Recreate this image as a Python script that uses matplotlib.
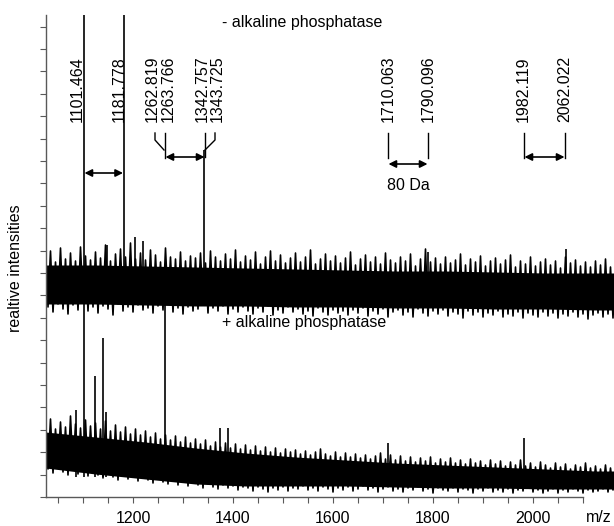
import numpy as np
import matplotlib
matplotlib.use("Agg")
import matplotlib.pyplot as plt

plt.rcParams['font.family'] = ['Liberation Sans', 'DejaVu Sans']

# m/z grid of the noise maxima (every 10 Da); minima sit 5 Da later
mz = np.arange(1025, 2166, 10)
# m/z grid of the dense noise core
core_mz = [1025, 1125, 1225, 1325, 1425, 1525, 1625, 1725, 1825, 1925, 2025, 2125, 2165]

# "- alkaline phosphatase" trace: core band, noise maxima and minima
top_core_hi = [232, 232, 231, 230, 229, 228, 227, 226, 226, 225, 224, 224, 224]
top_core_lo = [193, 193, 192, 191, 191, 190, 190, 189, 189, 188, 188, 187, 187]
top_hi = [240, 246, 235, 249, 238, 244, 236, 250, 241, 237,
          245, 239, 252, 236, 243, 248, 240, 254, 238, 244,
          237, 247, 242, 235, 249, 240, 238, 245, 236, 241,
          239, 244, 234, 246, 240, 236, 243, 238, 247, 235,
          241, 237, 245, 233, 240, 246, 236, 242, 234, 239,
          244, 235, 240, 247, 233, 238, 243, 236, 241, 234,
          239, 245, 232, 238, 242, 235, 240, 233, 244, 237,
          234, 240, 236, 243, 231, 238, 248, 235, 239, 233,
          240, 234, 237, 243, 232, 238, 235, 241, 231, 236,
          239, 233, 237, 242, 230, 236, 233, 240, 231, 235,
          238, 232, 236, 229, 240, 234, 237, 231, 235, 230,
          236, 232, 238, 230, 234]
top_lo = [190, 185, 193, 188, 183, 192, 187, 194, 186, 190,
          184, 191, 188, 182, 193, 186, 190, 185, 192, 187,
          189, 184, 191, 187, 193, 185, 189, 183, 190, 186,
          188, 192, 184, 189, 186, 191, 183, 188, 185, 190,
          186, 183, 189, 185, 191, 182, 187, 184, 190, 185,
          188, 183, 186, 181, 189, 185, 182, 187, 184, 186,
          182, 187, 184, 189, 181, 186, 183, 188, 180, 185,
          187, 182, 185, 180, 188, 184, 181, 186, 183, 187,
          181, 185, 183, 179, 186, 182, 185, 180, 184, 182,
          186, 180, 183, 181, 185, 179, 184, 182, 180, 185,
          181, 184, 179, 183, 181, 185, 180, 183, 178, 182,
          184, 180, 183, 179, 182]

# "+ alkaline phosphatase" trace
bot_core_hi = [65, 60, 55, 49, 44, 40, 37, 34, 32, 30, 28, 26, 26]
bot_core_lo = [29, 23, 18, 13, 11, 11, 11, 10, 9, 9, 8, 8, 8]
bot_hi = [72, 78, 68, 75, 70, 81, 73, 69, 77, 71,
          74, 68, 76, 66, 72, 65, 70, 63, 68, 62,
          66, 60, 64, 58, 62, 57, 61, 55, 60, 54,
          58, 53, 57, 51, 55, 50, 54, 49, 53, 48,
          52, 47, 51, 46, 50, 45, 49, 44, 48, 45,
          47, 43, 46, 42, 45, 48, 43, 41, 45, 40,
          44, 40, 43, 39, 42, 38, 41, 44, 38, 42,
          37, 41, 36, 40, 35, 39, 36, 40, 34, 38,
          35, 39, 34, 37, 33, 38, 34, 36, 32, 37,
          33, 36, 31, 35, 32, 37, 31, 34, 30, 35,
          32, 29, 34, 30, 33, 28, 32, 30, 34, 29,
          31, 28, 32, 29, 30]
bot_lo = [28, 24, 30, 25, 22, 27, 23, 26, 21, 25,
          22, 19, 24, 20, 17, 22, 18, 20, 16, 19,
          17, 14, 18, 15, 13, 16, 12, 15, 11, 14,
          12, 9, 13, 10, 8, 12, 9, 11, 7, 10,
          9, 6, 10, 8, 5, 9, 7, 10, 6, 9,
          8, 11, 7, 9, 6, 10, 8, 5, 9, 7,
          10, 6, 8, 11, 7, 9, 5, 8, 10, 6,
          8, 5, 9, 7, 10, 6, 8, 4, 9, 7,
          6, 9, 5, 8, 7, 4, 8, 6, 9, 5,
          7, 5, 8, 4, 7, 6, 9, 5, 7, 4,
          6, 8, 4, 7, 5, 8, 6, 4, 7, 5,
          6, 8, 5, 7, 4]

# peaks sticking out of the noise
top_peak_mz = [1101.5, 1181.8, 1342.8, 1148, 1204, 1220, 1790, 2066]
top_peak_h = [495, 495, 347, 252, 260, 256, 245, 248]
bot_peak_mz = [1101.5, 1124, 1140, 1263.8, 1086, 1146, 1374, 1390, 1710, 1982]
bot_peak_h = [207, 121, 159, 215, 87, 85, 69, 69, 54, 59]

# peak labels (text position in m/z)
labels = ["1101.464", "1181.778", "1262.819", "1263.766", "1342.757",
          "1343.725", "1710.063", "1790.096", "1982.119", "2062.022"]
label_x = [1088, 1172, 1238, 1270, 1338, 1368, 1710, 1790, 1980, 2064]

fig = plt.figure(figsize=(6.14, 5.26), dpi=100)
ax = fig.add_axes([46 / 614, 29 / 526, 568 / 614, 482 / 526])

for chi, clo, hi, lo in [(top_core_hi, top_core_lo, top_hi, top_lo),
                         (bot_core_hi, bot_core_lo, bot_hi, bot_lo)]:
    ax.fill_between(core_mz, clo, chi, color='k', lw=0)
    # spectrum trace: maximum, minimum, maximum, ...
    xs = np.column_stack([mz, mz + 5]).ravel()
    ys = np.column_stack([hi, lo]).ravel()
    ax.plot(xs, ys, color='k', lw=1.2)

ax.vlines(top_peak_mz, 200, top_peak_h, color='k', lw=1.2)
ax.vlines(bot_peak_mz, 20, bot_peak_h, color='k', lw=1.2)

for t, x in zip(labels, label_x):
    ax.text(x, 375, t, rotation=90, ha='center', va='bottom', fontsize=11.5)

# bracket / connector lines
ax.plot([1244, 1244, 1262, 1262], [364, 357, 347, 347], color='k', lw=1)
ax.plot([1264, 1264], [364, 339], color='k', lw=1)
ax.plot([1364, 1364, 1344], [364, 357, 347], color='k', lw=1)
ax.plot([1344, 1344], [364, 340], color='k', lw=1)
for x in [1710, 1790, 1982, 2064]:
    ax.plot([x, x], [364, 339], color='k', lw=1)

arrow = dict(arrowstyle='<|-|>', color='k', lw=1.2, mutation_scale=11,
             shrinkA=0, shrinkB=0)
ax.annotate('', xy=(1180, 324), xytext=(1103, 324), arrowprops=arrow)
ax.annotate('', xy=(1343, 340), xytext=(1265, 340), arrowprops=arrow)
ax.annotate('', xy=(1789, 333), xytext=(1711, 333), arrowprops=arrow)
ax.annotate('', xy=(2063, 340), xytext=(1983, 340), arrowprops=arrow)
ax.text(1750, 312, "80 Da", ha='center', va='center', fontsize=11.5)

ax.text(1378, 475, "- alkaline phosphatase", ha='left', va='center', fontsize=11.5)
ax.text(1378, 175, "+ alkaline phosphatase", ha='left', va='center', fontsize=11.5)
ax.text(2132, -21, "m/z", ha='center', va='center', fontsize=11.5, clip_on=False)

ax.set_xlim(1026, 2162)
ax.set_ylim(0, 482)
ax.set_xticks(np.arange(1200, 2001, 200))
ax.set_xticks(np.arange(1050, 2101, 50), minor=True)
ax.set_yticks(np.arange(0, 471, 22.4))
ax.set_yticklabels([])
ax.tick_params(which='both', direction='out', length=4, width=0.8,
               color='0.35', labelsize=11.5, pad=6)
ax.spines['top'].set_visible(False)
ax.spines['right'].set_visible(False)
ax.spines['bottom'].set_bounds(1026, 2100)
for s in ['left', 'bottom']:
    ax.spines[s].set_color('0.35')
    ax.spines[s].set_linewidth(1)

ax.set_ylabel("realtive intensities", fontsize=11.5)
ax.yaxis.set_label_coords(-0.04, 0.475)

fig.savefig("out.png", dpi=100)
